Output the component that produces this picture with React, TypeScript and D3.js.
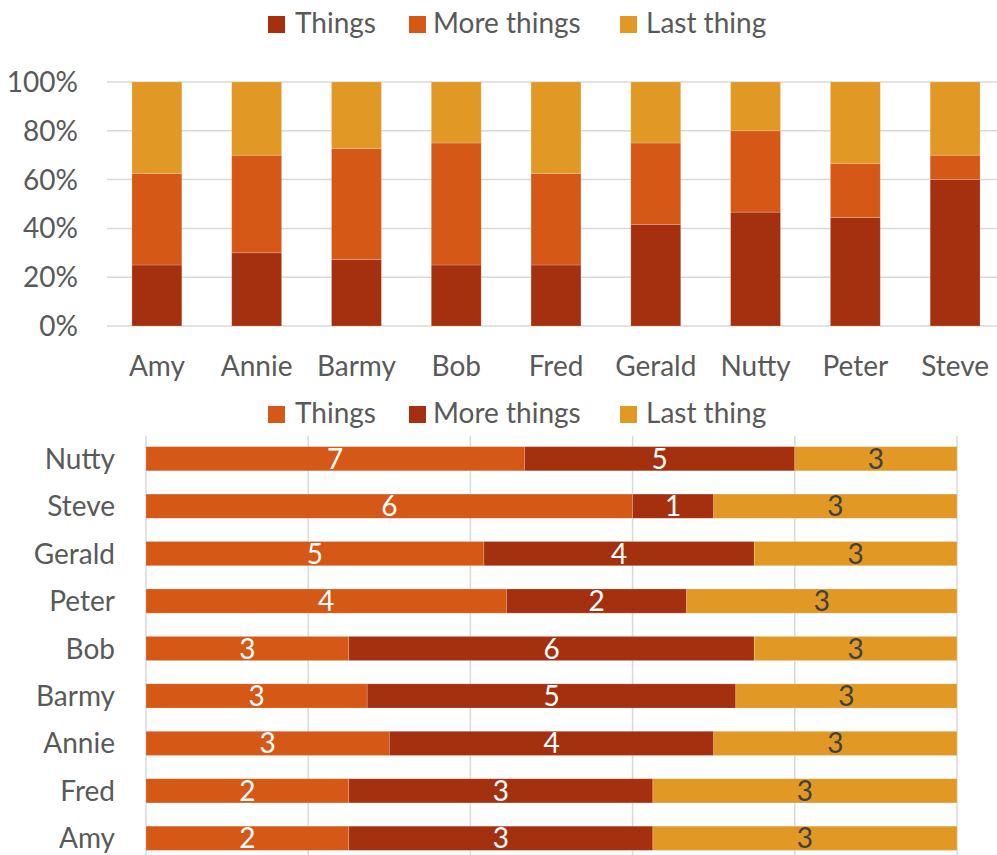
import React from "react";
import * as d3 from "d3";

const names = ["Amy", "Annie", "Barmy", "Bob", "Fred", "Gerald", "Nutty", "Peter", "Steve"];
const things = [2, 3, 3, 3, 2, 5, 7, 4, 6];
const moreThings = [3, 4, 5, 6, 3, 4, 5, 2, 1];
const lastThing = [3, 3, 3, 3, 3, 3, 3, 3, 3];
const seriesNames = ["Things", "More things", "Last thing"];
const barOrder = ["Nutty", "Steve", "Gerald", "Peter", "Bob", "Barmy", "Annie", "Fred", "Amy"];
const pctTicks = [0, 0.2, 0.4, 0.6, 0.8, 1];

const W = 997;
const H = 855;
const FONT = "Lato, 'Open Sans', sans-serif";
const TEXT = "#595959";
const GRID = "#D9D9D9";
const DARK = "#A5300F";
const ORANGE = "#D55816";
const GOLD = "#E19825";
const FS = 28;

const topColors = [DARK, ORANGE, GOLD];
const bottomColors = [ORANGE, DARK, GOLD];
const labelColors = ["#FFFFFF", "#FFFFFF", "#404040"];

type Row = { name: string; s0: number; s1: number; s2: number };
const rows: Row[] = names.map((n, i) => ({ name: n, s0: things[i], s1: moreThings[i], s2: lastThing[i] }));
const keys = ["s0", "s1", "s2"];

const stack = d3.stack<Row>().keys(keys).offset(d3.stackOffsetExpand);

function Legend({ y, colors }: { y: number; colors: string[] }) {
  const sqX = [268, 409, 620];
  const txX = [295, 433, 646];
  return (
    <g>
      {seriesNames.map((s, i) => (
        <g key={s}>
          <rect x={sqX[i]} y={y - 17} width={17} height={17} fill={colors[i]} />
          <text x={txX[i]} y={y} fontSize={FS} fill={TEXT} fontFamily={FONT}>
            {s}
          </text>
        </g>
      ))}
    </g>
  );
}

export default function App() {
  // Top: 100% stacked column
  const x = d3.scaleBand<string>().domain(names).range([107, 1005]).paddingInner(0.5).paddingOuter(0.25);
  const y = d3.scaleLinear().domain([0, 1]).range([326, 82]);
  const topStack = stack(rows);

  // Bottom: 100% stacked bar
  const bRows = barOrder.map((n) => rows.find((r) => r.name === n)!);
  const by = d3.scaleBand<string>().domain(barOrder).range([435, 862]).paddingInner(0.49).paddingOuter(0.245);
  const bx = d3.scaleLinear().domain([0, 1]).range([146, 957]);
  const botStack = stack(bRows);

  return (
    <svg
      width={W}
      height={H}
      style={{ position: "absolute", left: 0, top: 0, background: "#fff" }}
      fontFamily={FONT}
    >
      <rect width={W} height={H} fill="#fff" />
      {/* Top chart */}
      <Legend y={33} colors={topColors} />
      {pctTicks.map((t) => (
        <g key={t}>
          <line x1={107} x2={W} y1={y(t)} y2={y(t)} stroke={GRID} strokeWidth={1.5} />
          <text x={78} y={y(t)} dy="0.36em" textAnchor="end" fontSize={FS} fill={TEXT}>
            {d3.format(".0%")(t)}
          </text>
        </g>
      ))}
      {topStack.map((layer, li) => (
        <g key={li}>
          {layer.map((d, i) => (
            <rect
              key={i}
              x={x(d.data.name)!}
              width={x.bandwidth()}
              y={y(d[1])}
              height={y(d[0]) - y(d[1])}
              fill={topColors[li]}
              stroke="#fff"
              strokeOpacity={0.25}
              strokeWidth={0.75}
            />
          ))}
        </g>
      ))}
      {names.map((n) => (
        <text key={n} x={x(n)! + x.bandwidth() / 2} y={376} textAnchor="middle" fontSize={FS} fill={TEXT}>
          {n}
        </text>
      ))}

      {/* Bottom chart */}
      <Legend y={423} colors={bottomColors} />
      {pctTicks.map((t) => (
        <line key={t} x1={bx(t)} x2={bx(t)} y1={436} y2={H} stroke={GRID} strokeWidth={1.5} />
      ))}
      {botStack.map((layer, li) => (
        <g key={li}>
          {layer.map((d, i) => (
            <g key={i}>
              <rect
                x={bx(d[0])}
                width={bx(d[1]) - bx(d[0])}
                y={by(d.data.name)!}
                height={by.bandwidth()}
                fill={bottomColors[li]}
                stroke="#fff"
                strokeOpacity={0.25}
                strokeWidth={0.75}
              />
              <text
                x={(bx(d[0]) + bx(d[1])) / 2}
                y={by(d.data.name)! + by.bandwidth() / 2}
                dy="0.36em"
                textAnchor="middle"
                fontSize={FS}
                fill={labelColors[li]}
              >
                {(d.data as any)[keys[li]]}
              </text>
            </g>
          ))}
        </g>
      ))}
      {barOrder.map((n) => (
        <text
          key={n}
          x={115}
          y={by(n)! + by.bandwidth() / 2}
          dy="0.36em"
          textAnchor="end"
          fontSize={FS}
          fill={TEXT}
        >
          {n}
        </text>
      ))}
    </svg>
  );
}
